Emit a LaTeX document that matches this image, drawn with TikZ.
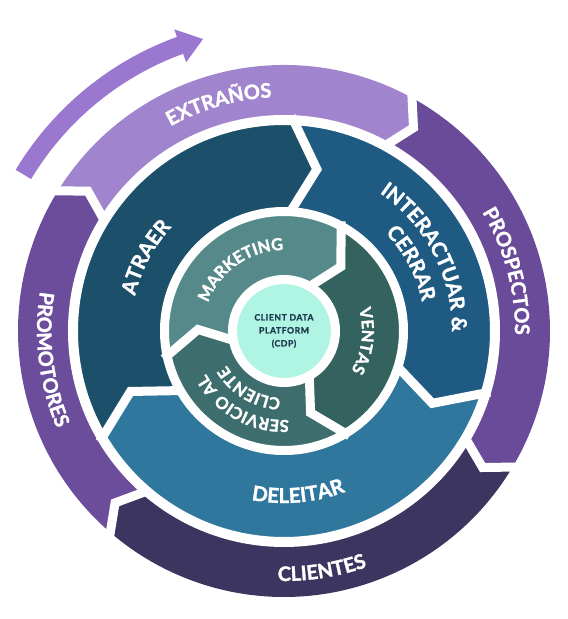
\documentclass[tikz,border=0pt]{standalone}
\usepackage{fontspec}
\setmainfont{Lato}
\newfontfamily\heavyfont{Lato}[LetterSpace=6, UprightFeatures={FakeBold=2.5}, BoldFeatures={FakeBold=1.5}]
\usetikzlibrary{decorations.text}

\definecolor{arrowcol}{HTML}{9A78D0}
\definecolor{extrcol}{HTML}{A084CD}
\definecolor{proscol}{HTML}{6A4B99}
\definecolor{cliecol}{HTML}{3C3560}
\definecolor{promcol}{HTML}{6B4D9C}
\definecolor{atracol}{HTML}{1C4F6A}
\definecolor{intecol}{HTML}{1F5A82}
\definecolor{delecol}{HTML}{30779E}
\definecolor{markcol}{HTML}{568A8A}
\definecolor{ventcol}{HTML}{34625F}
\definecolor{servcol}{HTML}{3D6E6D}
\definecolor{cdpcol}{HTML}{B0F5E3}
\definecolor{cdptext}{HTML}{1E3A50}

\tikzstyle{gapline}=[draw=white, line width=9pt, line join=miter]
\tikzstyle{ringtext}=[decorate, decoration={text along path, text align=center}]
\tikzstyle{cdpnode}=[circle, fill=cdpcol, draw=white, line width=9pt, minimum size=103pt, inner sep=0pt, align=center, text=cdptext, font=\heavyfont\bfseries\fontsize{8.7}{13}\selectfont]
\newcommand{\bigfont}{\color{white}\heavyfont\bfseries\fontsize{20}{20}\selectfont}
\newcommand{\midfont}{\color{white}\heavyfont\bfseries\fontsize{20.5}{21}\selectfont}
\newcommand{\smallfont}{\color{white}\heavyfont\bfseries\fontsize{16.5}{17}\selectfont}

\begin{document}
\begin{tikzpicture}[x=1pt, y=1pt]
\useasboundingbox (-284,-288) rectangle (284,331);

%arrow
\fill[arrowcol] (149:295) arc[start angle=149, end angle=110, radius=295] -- (110:286) -- (105.5:303) -- (110:321) -- (110:313) arc[start angle=110, end angle=149, radius=313] -- cycle;

%ring 1
\def\rin{211} \def\rout{266} \def\rmid{241} \def\tipd{4.5}
\foreach \col/\from/\to in {extrcol/149/62, proscol/62/-30, cliecol/-30/-130, promcol/-130/-211}
  \fill[\col] (\from:\rout) arc[start angle=\from, end angle=\to, radius=\rout] -- ({\to-\tipd}:\rmid) -- (\to:\rin) arc[start angle=\to, end angle=\from, radius=\rin] -- ({\from-\tipd}:\rmid) -- cycle;
\foreach \to in {62, -30, -130, -211}
  \draw[gapline] (\to:{\rout+6}) -- ({\to-\tipd}:\rmid) -- (\to:{\rin-4});

%ring 2
\def\rin{119.5} \def\rout{211} \def\rmid{165} \def\tipd{9.5}
\foreach \col/\from/\to in {atracol/211/88, intecol/88/-16.5, delecol/-16.5/-149}
  \fill[\col] (\from:\rout) arc[start angle=\from, end angle=\to, radius=\rout] -- ({\to-\tipd}:\rmid) -- (\to:\rin) arc[start angle=\to, end angle=\from, radius=\rin] -- ({\from-\tipd}:\rmid) -- cycle;
\foreach \to in {88, -16.5, -149}
  \draw[gapline] (\to:{\rout+4}) -- ({\to-\tipd}:\rmid) -- (\to:{\rin-4});

%ring 3
\def\rin{51.5} \def\rout{119.5} \def\rmid{86} \def\tipd{14}
\foreach \col/\from/\to in {markcol/193/62.5, ventcol/62.5/-58, servcol/-58/-167}
  \fill[\col] (\from:\rout) arc[start angle=\from, end angle=\to, radius=\rout] -- ({\to-\tipd}:\rmid) -- (\to:\rin) arc[start angle=\to, end angle=\from, radius=\rin] -- ({\from-\tipd}:\rmid) -- cycle;
\foreach \to in {62.5, -58, -167}
  \draw[gapline] (\to:{\rout+4}) -- ({\to-\tipd}:\rmid) -- (\to:{\rin-4});

%gaps between rings
\draw[gapline, line width=10pt] (0,0) circle[radius=211];
\draw[gapline] (0,0) circle[radius=119.5];

%center
\node[cdpnode] (cdp) at (0,0) {CLIENT DATA\\PLATFORM\\(CDP)};

%labels ring 1
\path[ringtext, decoration={text={|\bigfont|EXTRAÑOS}}] (146:234) arc[start angle=146, end angle=66, radius=234];
\path[ringtext, decoration={text={|\bigfont|PROSPECTOS}}] (55:231) arc[start angle=55, end angle=-25, radius=231];
\path[ringtext, decoration={text={|\bigfont|CLIENTES}}] (-121:250) arc[start angle=-121, end angle=-41, radius=250];
\path[ringtext, decoration={text={|\bigfont|PROMOTORES}}] (147:247) arc[start angle=147, end angle=227, radius=247];

%labels ring 2
\path[ringtext, decoration={text={|\midfont|ATRAER}}] (197:153) arc[start angle=197, end angle=107, radius=153];
\path[ringtext, decoration={text={|\midfont|INTERACTUAR {\&}}}] (82:168) arc[start angle=82, end angle=-27, radius=168];
\path[ringtext, decoration={text={|\midfont|CERRAR}}] (73:141) arc[start angle=73, end angle=-17, radius=141];
\path[ringtext, decoration={text={|\midfont|DELEITAR}}] (-135:172) arc[start angle=-135, end angle=-35, radius=172];

%labels ring 3
\path[ringtext, decoration={text={|\smallfont|MARKETING}}] (190:81) arc[start angle=190, end angle=60, radius=81];
\path[ringtext, decoration={text={|\smallfont|VENTAS}}] (48:78) arc[start angle=48, end angle=-62, radius=78];
\path[ringtext, decoration={text={|\smallfont|SERVICIO AL}}] (-59:89) arc[start angle=-59, end angle=-179, radius=89];
\path[ringtext, decoration={text={|\smallfont|CLIENTE}}] (-61:67) arc[start angle=-61, end angle=-181, radius=67];

\end{tikzpicture}
\end{document}
